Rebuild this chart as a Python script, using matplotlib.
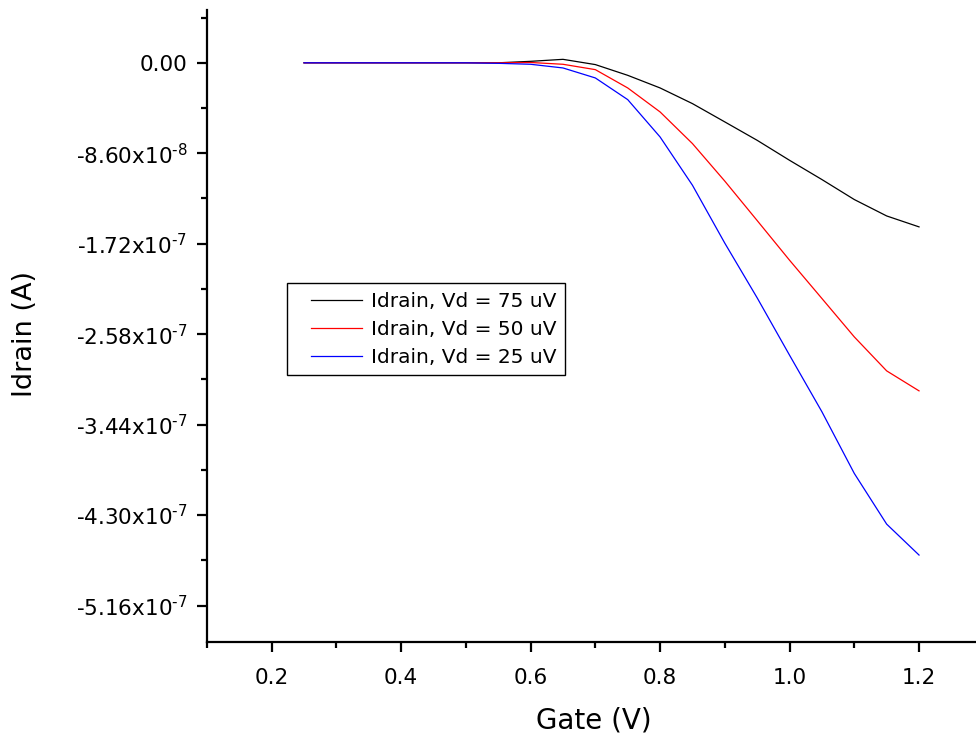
import numpy as np
import matplotlib
matplotlib.use("Agg")
import matplotlib.pyplot as plt
from matplotlib.ticker import FixedLocator, FuncFormatter
from matplotlib.legend_handler import HandlerLine2D

plt.rcParams["font.family"] = ["DejaVu Sans"]
plt.rcParams["mathtext.fontset"] = "dejavusans"

# gate voltage sweep
gate = [0.25, 0.30, 0.35, 0.40, 0.45, 0.50, 0.55, 0.60, 0.65, 0.70,
        0.75, 0.80, 0.85, 0.90, 0.95, 1.00, 1.05, 1.10, 1.15, 1.20]

# drain current (A) for each Vd
id_75 = [0, 0, 0, 0, 0, 0, 0, 1.4e-9, 3.3e-9, -1.7e-9,
         -1.19e-8, -2.39e-8, -3.88e-8, -5.62e-8, -7.37e-8, -9.27e-8, -1.11e-7, -1.30e-7, -1.456e-7, -1.56e-7]
id_50 = [0, 0, 0, 0, 0, 0, 0, 0.3e-9, -1.4e-9, -6.5e-9,
         -2.39e-8, -4.67e-8, -7.68e-8, -1.125e-7, -1.50e-7, -1.877e-7, -2.241e-7, -2.606e-7, -2.929e-7, -3.119e-7]
id_25 = [0, 0, 0, 0, 0, 0, -0.5e-9, -1.4e-9, -4.9e-9, -1.44e-8,
         -3.5e-8, -7.05e-8, -1.164e-7, -1.715e-7, -2.235e-7, -2.78e-7, -3.318e-7, -3.904e-7, -4.386e-7, -4.68e-7]

labels = ["Idrain, Vd = 75 uV", "Idrain, Vd = 50 uV", "Idrain, Vd = 25 uV"]
colors = ["black", "red", "blue"]

y_ticks = [0, -8.6e-8, -1.72e-7, -2.58e-7, -3.44e-7, -4.30e-7, -5.16e-7]
x_ticks = [0.2, 0.4, 0.6, 0.8, 1.0, 1.2]


def fmt_y(v, pos):
    if v == 0:
        return "0.00"
    e = int(np.floor(np.log10(abs(v))))
    m = v / 10**e
    # hyphen instead of the wide math minus in the exponent
    return f"{m:.2f}x10$^{{\u2010{abs(e)}}}$"


class PadHandler(HandlerLine2D):
    # leaves some blank room left of the legend line, like Origin does
    def create_artists(self, legend, orig_handle, xdescent, ydescent, width, height, fontsize, trans):
        pad = 0.8 * fontsize
        return super().create_artists(legend, orig_handle, xdescent - pad, ydescent,
                                      width - pad, height, fontsize, trans)


fig = plt.figure(figsize=(9.76, 7.37), dpi=100)
axs = fig.add_axes([0.212, 0.129, 0.788, 0.857])

lines = []
for ys, lab, c in zip([id_75, id_50, id_25], labels, colors):
    ln, = axs.plot(gate, ys, color=c, lw=0.9, label=lab)
    lines.append(ln)

axs.set_xlim(0.1, 1.288)
axs.set_ylim(-5.506e-7, 4.99e-8)

axs.xaxis.set_major_locator(FixedLocator(x_ticks))
axs.xaxis.set_minor_locator(FixedLocator([0.1, 0.3, 0.5, 0.7, 0.9, 1.1]))
axs.yaxis.set_major_locator(FixedLocator(y_ticks))
axs.yaxis.set_minor_locator(FixedLocator([4.3e-8, -4.3e-8, -1.29e-7, -2.15e-7, -3.01e-7, -3.87e-7, -4.73e-7]))
axs.yaxis.set_major_formatter(FuncFormatter(fmt_y))
axs.xaxis.set_major_formatter(FuncFormatter(lambda v, p: f"{v:.1f}"))

for s in ["top", "right"]:
    axs.spines[s].set_visible(False)
for s in ["left", "bottom"]:
    axs.spines[s].set_linewidth(1.6)

axs.tick_params(axis="both", which="major", direction="out", length=7, width=1.6, labelsize=15.5)
axs.tick_params(axis="y", which="major", pad=7)
axs.tick_params(axis="x", which="major", pad=12)
axs.tick_params(axis="both", which="minor", direction="out", length=4, width=1.6)

axs.set_xlabel("Gate (V)", fontsize=20, va="center")
axs.xaxis.set_label_coords(0.503, -0.124)
axs.set_ylabel("Idrain (A)", fontsize=19.5, va="center")
axs.yaxis.set_label_coords(-0.237, 0.488)

leg = axs.legend(loc="upper left", bbox_to_anchor=(0.104, 0.568), borderaxespad=0,
                 fontsize=14.5, handlelength=3.3, handletextpad=0.45, borderpad=0.42,
                 labelspacing=0.45, fancybox=False, framealpha=1,
                 handler_map={ln: PadHandler() for ln in lines})
leg.get_frame().set_edgecolor("black")
leg.get_frame().set_linewidth(1.0)

plt.savefig("out.png", dpi=100)
plt.close()
